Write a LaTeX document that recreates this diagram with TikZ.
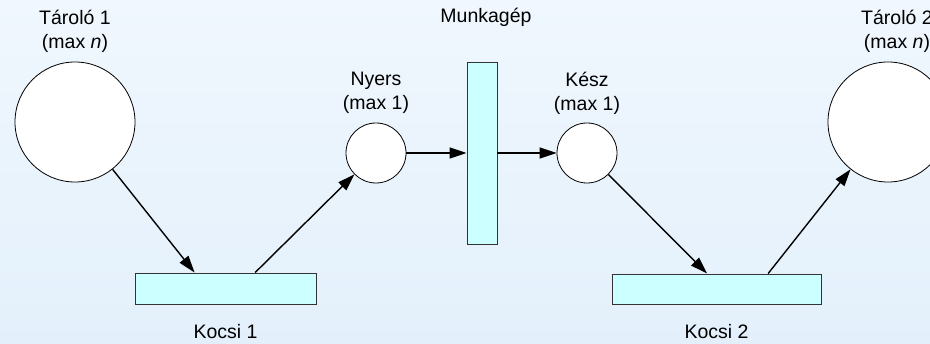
\documentclass[tikz,border=0pt]{standalone}
\usepackage{fontspec}
\setmainfont{Liberation Sans}
\usepackage{tikz}
\usetikzlibrary{arrows.meta,calc}
\definecolor{bgtop}{HTML}{F0F7FE}
\definecolor{bgbottom}{HTML}{E3F0FB}
\definecolor{boxcyan}{HTML}{CCFFFF}
\definecolor{edgegray}{HTML}{333333}

\tikzset{
  place/.style={circle,draw=black,line width=0.8pt,fill=white,inner sep=0pt},
  trans/.style={rectangle,draw=edgegray,line width=0.9pt,fill=boxcyan,inner sep=0pt},
  lbl/.style={font=\fontsize{19.5}{24}\selectfont,align=center,inner sep=0pt,anchor=north},
  arc/.style={line width=1.4pt,-{Triangle[length=17pt,width=11pt]}}
}

\begin{document}
\begin{tikzpicture}[x=1pt,y=-1pt]
  % background
  \fill[top color=bgtop,bottom color=bgbottom] (0,0) rectangle (930,344);
  \useasboundingbox (0,0) rectangle (930,344);

  % places
  \node[place,minimum size=120pt] (taroloA) at (75,122) {};
  \node[place,minimum size=60pt] (nyers) at (376,153) {};
  \node[place,minimum size=60pt] (kesz) at (587,153) {};
  \node[place,minimum size=120pt] (taroloB) at (888,122) {};

  % transitions
  \node[trans,minimum width=30pt,minimum height=182pt] (gep) at (482,153) {};
  \node[trans,minimum width=181pt,minimum height=31pt] (kocsiA) at (225.5,288.5) {};
  \node[trans,minimum width=209pt,minimum height=30pt] (kocsiB) at (716.5,289) {};

  % labels
  \node[lbl] (taroloAcim) at (75,10) {Tároló 1\\(max \textit{n})};
  \node[lbl] (gepcim) at (486,8) {Munkagép};
  \node[lbl] (nyerscim) at (376,72) {Nyers\\(max 1)};
  \node[lbl] (keszcim) at (587,72) {Kész\\(max 1)};
  \node[lbl] (taroloBcim) at (897,10) {Tároló 2\\(max \textit{n})};
  \node[lbl] (kocsiAcim) at (225.5,324) {Kocsi 1};
  \node[lbl] (kocsiBcim) at (716.5,324) {Kocsi 2};

  % arcs
  \coordinate (kAbe) at ($(kocsiA.north west)!0.33!(kocsiA.north east)$);
  \coordinate (kAki) at ($(kocsiA.north west)!0.663!(kocsiA.north east)$);
  \coordinate (kBbe) at ($(kocsiB.north west)!0.455!(kocsiB.north east)$);
  \coordinate (kBki) at ($(kocsiB.north west)!0.746!(kocsiB.north east)$);
  \draw[arc] (taroloA) -- (kAbe);
  \draw[arc] (kAki) -- (nyers);
  \draw[arc] (nyers) -- (gep);
  \draw[arc] (gep) -- (kesz);
  \draw[arc] (kesz) -- (kBbe);
  \draw[arc] (kBki) -- (taroloB);
\end{tikzpicture}
\end{document}
